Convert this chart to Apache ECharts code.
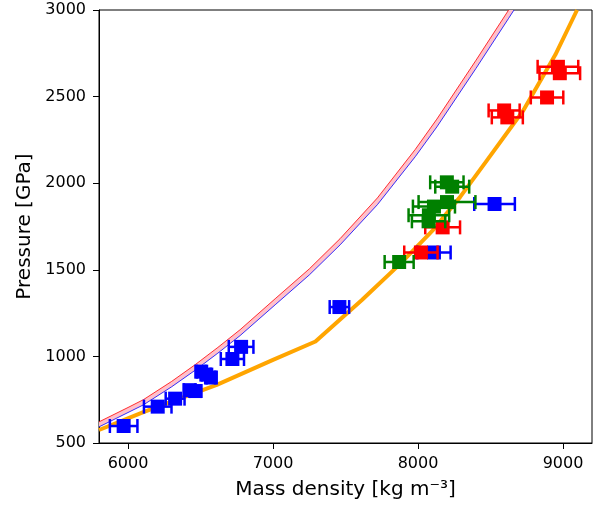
<!DOCTYPE html>
<html>
<head>
<meta charset="utf-8">
<script src="https://cdn.jsdelivr.net/npm/echarts@6/dist/echarts.min.js"></script>
<style>
  html, body { margin: 0; padding: 0; background: #fff; }
  #chart { width: 600px; height: 506px; }
</style>
</head>
<body>
<div id="chart"></div>
<script>
// Axis ticks
const xTickValues = [6000, 7000, 8000, 9000];
const yTickValues = [500, 1000, 1500, 2000, 2500, 3000];

// Model band: upper (red) and lower (blue) edges, density in kg/m^3, pressure in GPa
const bandUpperRho = [5800, 6000, 6106, 6300, 6463, 6620, 6773, 7015, 7250, 7463, 7720, 7981, 8130, 8400, 8625];
const bandUpperP   = [622, 705, 750, 855, 952, 1052, 1154, 1333, 1505, 1680, 1915, 2195, 2370, 2710, 3000];
const bandLowerRho = [5800, 6000, 6106, 6300, 6463, 6620, 6773, 7015, 7250, 7463, 7720, 7981, 8130, 8400, 8625, 8662];
const bandLowerP   = [593, 676, 720, 824, 920, 1019, 1120, 1298, 1470, 1644, 1876, 2153, 2325, 2663, 2952, 3000];

// Orange curve (with a kink near 7300 kg/m^3)
const orangeRho = [5800, 6106, 6612, 7000, 7293, 7615, 7877, 8105, 8291, 8478, 8726, 8947, 9097];
const orangeP   = [575, 678, 836, 980, 1086, 1327, 1534, 1731, 1921, 2135, 2420, 2741, 3000];

// Measurements: density, pressure, density uncertainty
const blueRho = [5970, 6205, 6325, 6425, 6465, 6505, 6540, 6572, 6720, 6780, 7458, 8110, 8528];
const blueP   = [598, 710, 756, 805, 800, 912, 895, 878, 985, 1055, 1285, 1600, 1880];
const blueErr = [95, 95, 65, 40, 40, 30, 30, 30, 80, 85, 67, 115, 140];

const redRho = [8020, 8170, 8594, 8616, 8890, 8965, 8978];
const redP   = [1600, 1745, 2420, 2380, 2495, 2672, 2635];
const redErr = [115, 120, 107, 107, 112, 140, 140];

const greenRho = [7870, 8073, 8075, 8110, 8200, 8199, 8236];
const greenP   = [1545, 1780, 1815, 1865, 1891, 2005, 1980];
const greenErr = [100, 115, 140, 145, 196, 115, 117];

const FONT = 'DejaVu Sans';

function pairs(xs, ys) { return xs.map((x, i) => [x, ys[i]]); }

function errorBars(rho, p, err, color, z) {
  return {
    type: 'custom',
    z: z,
    silent: true,
    animation: false,
    encode: { x: 0, y: 1 },
    data: rho.map((r, i) => [r, p[i], err[i]]),
    renderItem: function (params, api) {
      const x = api.value(0), y = api.value(1), e = api.value(2);
      const a = api.coord([x - e, y]);
      const b = api.coord([x + e, y]);
      const cap = 7;
      const st = { stroke: color, lineWidth: 2.5 };
      return {
        type: 'group',
        children: [
          { type: 'line', shape: { x1: a[0], y1: a[1], x2: b[0], y2: b[1] }, style: st },
          { type: 'line', shape: { x1: a[0], y1: a[1] - cap, x2: a[0], y2: a[1] + cap }, style: st },
          { type: 'line', shape: { x1: b[0], y1: b[1] - cap, x2: b[0], y2: b[1] + cap }, style: st }
        ]
      };
    }
  };
}

function markers(rho, p, color, z) {
  return {
    type: 'scatter',
    z: z,
    silent: true,
    animation: false,
    symbol: 'rect',
    symbolSize: 14,
    itemStyle: { color: color, opacity: 1 },
    data: pairs(rho, p)
  };
}

function curve(rho, p, color, width, z) {
  return {
    type: 'line', z: z, silent: true, showSymbol: false, animation: false, clip: true,
    lineStyle: { color: color, width: width, cap: 'butt', join: 'round' },
    data: pairs(rho, p)
  };
}

const plain = v => String(v);

const chart = echarts.init(document.getElementById('chart'), null, { renderer: 'canvas' });

chart.setOption({
  backgroundColor: '#fff',
  animation: false,
  grid: {
    left: 99, right: 8, top: 10, bottom: 63,
    containLabel: false,
    outerBoundsMode: 'none',
    show: true,
    borderColor: '#000',
    borderWidth: 1,
    backgroundColor: 'transparent'
  },
  xAxis: {
    type: 'value',
    min: 5800, max: 9200,
    axisLine: { show: true, onZero: false, lineStyle: { color: '#000', width: 1 } },
    axisTick: { show: true, inside: false, length: 6, customValues: xTickValues, lineStyle: { color: '#000', width: 1 } },
    axisLabel: { customValues: xTickValues, formatter: plain, color: '#000', fontSize: 16, fontFamily: FONT, margin: 13 },
    splitLine: { show: false },
    name: 'Mass density [kg m\u207B\u00B3]',
    nameLocation: 'middle',
    nameGap: 37,
    nameTextStyle: { color: '#000', fontSize: 20, fontFamily: FONT }
  },
  yAxis: {
    type: 'value',
    min: 500, max: 3000, interval: 500,
    axisLine: { show: true, onZero: false, lineStyle: { color: '#000', width: 1 } },
    axisTick: { show: true, inside: false, length: 6, lineStyle: { color: '#000', width: 1 } },
    axisLabel: { formatter: plain, color: '#000', fontSize: 16, fontFamily: FONT, margin: 13 },
    splitLine: { show: false },
    name: 'Pressure [GPa]',
    nameLocation: 'middle',
    nameRotate: 90,
    nameGap: 55,
    nameTextStyle: { color: '#000', fontSize: 20, fontFamily: FONT }
  },
  series: [
    {
      // pink band between the two model edges
      type: 'custom',
      z: 1,
      silent: true,
      animation: false,
      clip: true,
      encode: { x: 0, y: 1 },
      data: [[bandUpperRho[0], bandUpperP[0]]],
      renderItem: function (params, api) {
        const pts = [];
        for (let i = 0; i < bandUpperRho.length; i++) pts.push(api.coord([bandUpperRho[i], bandUpperP[i]]));
        for (let i = bandLowerRho.length - 1; i >= 0; i--) pts.push(api.coord([bandLowerRho[i], bandLowerP[i]]));
        return { type: 'polygon', shape: { points: pts }, style: { fill: '#ffc0cb' } };
      }
    },
    curve(bandUpperRho, bandUpperP, '#ff0000', 0.8, 2),
    curve(bandLowerRho, bandLowerP, '#0000ff', 0.8, 2),
    curve(orangeRho, orangeP, '#ffa500', 4, 3),
    errorBars(blueRho, blueP, blueErr, '#0000ff', 4),
    markers(blueRho, blueP, '#0000ff', 5),
    errorBars(redRho, redP, redErr, '#ff0000', 6),
    markers(redRho, redP, '#ff0000', 7),
    errorBars(greenRho, greenP, greenErr, '#008000', 8),
    markers(greenRho, greenP, '#008000', 9)
  ]
});
</script>
</body>
</html>
